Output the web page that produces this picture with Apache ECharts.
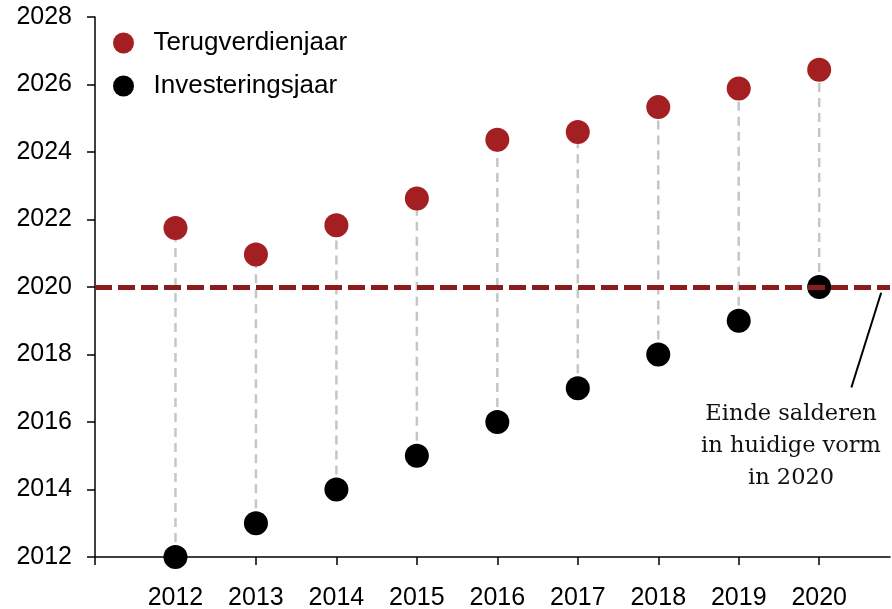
<!DOCTYPE html>
<html><head><meta charset="utf-8">
<script src="https://cdn.jsdelivr.net/npm/echarts@6/dist/echarts.min.js"></script>
<style>html,body{margin:0;padding:0;background:#fff}#c{width:892px;height:609px}</style>
</head><body><div id="c"></div>
<script>
const years = [2012, 2013, 2014, 2015, 2016, 2017, 2018, 2019, 2020];
const investYear = [2012, 2013, 2014, 2015, 2016, 2017, 2018, 2019, 2020];
const paybackYear = [2021.75, 2020.96, 2021.83, 2022.62, 2024.36, 2024.59, 2025.33, 2025.88, 2026.44];
const xTickValues = [2011, 2012, 2013, 2014, 2015, 2016, 2017, 2018, 2019, 2020];
const seriesNames = ['Terugverdienjaar', 'Investeringsjaar'];
const thresholdYear = 2020;
const annotationText = ['Einde salderen', 'in huidige vorm', 'in 2020'];
const annotationFrom = [2020.77, 2019.83];
const annotationTo = [2020.40, 2017.02];
const annotationTextAt = [2019.65, 2015.27];

const RED = '#a31f21';
const FONT = 'Liberation Sans, Arial, sans-serif';

const chart = echarts.init(document.getElementById('c'), null, {renderer: 'canvas'});

const option = {
  animation: false,
  backgroundColor: '#fff',
  grid: {left: 95, right: 2, top: 17, bottom: 52, containLabel: false, outerBoundsMode: 'none'},
  legend: {
    orient: 'vertical', left: 108, top: 25,
    data: seriesNames, icon: 'circle',
    itemWidth: 50, itemHeight: 21, itemGap: 17,
    textStyle: {fontSize: 26, fontFamily: FONT, color: '#000'}
  },
  xAxis: {
    type: 'value', min: 2011, max: 2020.88, interval: 1,
    axisLine: {show: true, lineStyle: {color: '#000', width: 1.5}},
    axisTick: {show: true, length: 8, customValues: xTickValues, lineStyle: {color: '#000', width: 1.5}},
    axisLabel: {customValues: years, fontSize: 25, fontFamily: FONT, color: '#000', margin: 29, formatter: v => String(v)},
    splitLine: {show: false}
  },
  yAxis: {
    type: 'value', min: 2012, max: 2028, interval: 2,
    axisLine: {show: true, lineStyle: {color: '#000', width: 1.5}},
    axisTick: {show: true, length: 8, lineStyle: {color: '#000', width: 1.5}},
    axisLabel: {fontSize: 25, fontFamily: FONT, color: '#000', margin: 23, formatter: v => String(v)},
    splitLine: {show: false}
  },
  series: [
    {
      type: 'custom', z: 1, silent: true,
      data: years.map((y, i) => [y, investYear[i], paybackYear[i]]),
      renderItem: function (params, api) {
        const a = api.coord([api.value(0), api.value(1)]);
        const b = api.coord([api.value(0), api.value(2)]);
        return {type: 'line', shape: {x1: a[0], y1: a[1], x2: b[0], y2: b[1]},
          style: {stroke: '#c6c6c6', lineWidth: 2.5, lineDash: [9, 6]}};
      }
    },
    {
      name: seriesNames[0], type: 'scatter', z: 2, symbol: 'circle', symbolSize: 24,
      itemStyle: {color: RED, opacity: 1},
      data: years.map((y, i) => [y, paybackYear[i]])
    },
    {
      name: seriesNames[1], type: 'scatter', z: 2, symbol: 'circle', symbolSize: 24,
      itemStyle: {color: '#000', opacity: 1},
      data: years.map((y, i) => [y, investYear[i]])
    },
    {
      type: 'line', z: 5, data: [], silent: true,
      markLine: {
        silent: true, symbol: ['none', 'none'], label: {show: false}, animation: false,
        data: [
          {yAxis: thresholdYear, lineStyle: {color: '#8a1c1e', width: 5, type: [17, 6]}},
          [{coord: annotationFrom, lineStyle: {color: '#000', width: 2, type: 'solid'}}, {coord: annotationTo}]
        ]
      }
    }
  ]
};
chart.setOption(option);

const p = chart.convertToPixel({gridIndex: 0}, annotationTextAt);
chart.setOption({
  graphic: [{
    type: 'text', x: p[0], y: p[1], silent: true,
    style: {
      text: annotationText.join('\n'), align: 'center', verticalAlign: 'middle',
      font: '22.5px "DejaVu Serif", serif', lineHeight: 32, fill: '#111'
    }
  }]
});
</script>
</body></html>
